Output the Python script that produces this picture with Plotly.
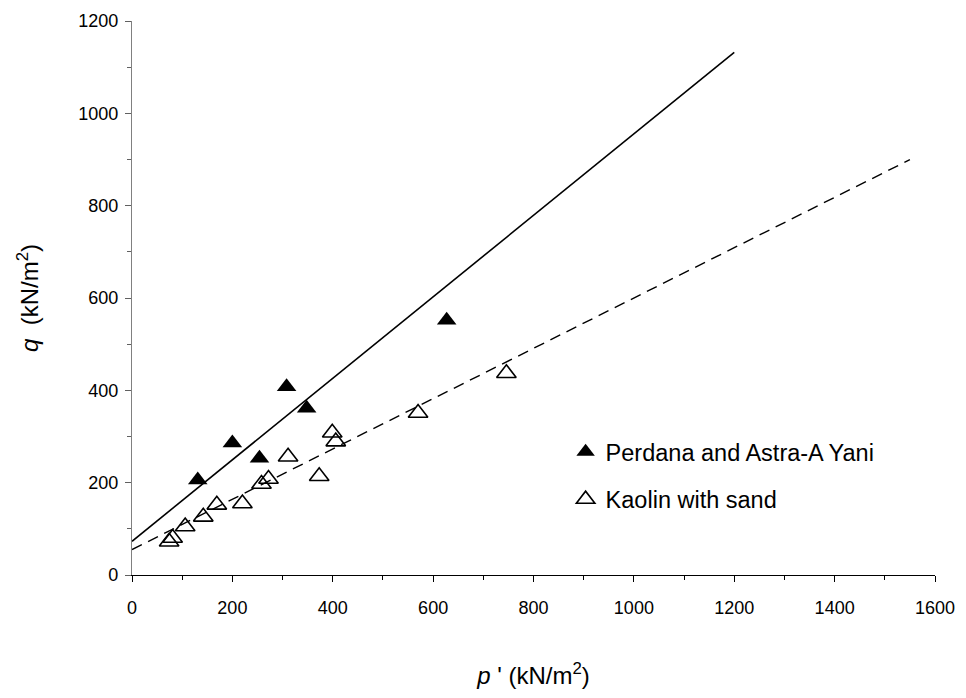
import numpy as np
import plotly.graph_objects as go

# Measured stress paths: mean effective stress p' and deviator stress q (kN/m²)
perdana_p = [131, 200, 254, 308, 348, 627]
perdana_q = [206, 286, 253, 408, 361, 552]

kaolin_p = [74, 81, 106, 142, 169, 220, 258, 272, 311, 373, 399, 406, 570, 746]
kaolin_q = [72, 80, 105, 126, 152, 155, 197, 208, 256, 214, 308, 289, 351, 437]

# Linear failure envelopes q = a + M p'
perdana_fit_a, perdana_fit_m, perdana_fit_pmax = 73.0, 0.8825, 1200.0
kaolin_fit_a, kaolin_fit_m, kaolin_fit_pmax = 55.0, 0.545, 1550.0

FONT = "Liberation Sans, Arial, sans-serif"

fig = go.Figure()

p_line1 = np.array([0.0, perdana_fit_pmax])
fig.add_trace(go.Scatter(
    x=p_line1, y=perdana_fit_a + perdana_fit_m * p_line1,
    mode="lines", line=dict(color="black", width=1.6),
    showlegend=False, hoverinfo="skip",
))

p_line2 = np.array([0.0, kaolin_fit_pmax])
fig.add_trace(go.Scatter(
    x=p_line2, y=kaolin_fit_a + kaolin_fit_m * p_line2,
    mode="lines", line=dict(color="black", width=1.4, dash="11px,7px"),
    showlegend=False, hoverinfo="skip",
))

fig.add_trace(go.Scatter(
    x=kaolin_p, y=kaolin_q, mode="markers", name="Kaolin with sand",
    legendgroup="b", legendrank=2,
    marker=dict(symbol="triangle-up-open", size=17, color="black",
                line=dict(color="black", width=1.6)),
))

fig.add_trace(go.Scatter(
    x=perdana_p, y=perdana_q, mode="markers", name="Perdana and Astra-A Yani",
    legendgroup="a", legendrank=1,
    marker=dict(symbol="triangle-up", size=17, color="black",
                line=dict(color="black", width=0)),
))

fig.update_layout(
    width=966, height=698,
    margin=dict(l=132, r=31, t=21, b=123),
    paper_bgcolor="white", plot_bgcolor="white",
    font=dict(family=FONT, size=18, color="black"),
    showlegend=True,
    legend=dict(
        x=0.54, y=0.262, xanchor="left", yanchor="top",
        font=dict(family=FONT, size=23.5, color="black"),
        traceorder="grouped", tracegroupgap=14,
        bgcolor="rgba(0,0,0,0)", itemwidth=30,
    ),
    xaxis=dict(
        range=[0, 1600], tickvals=list(range(0, 1601, 200)),
        showgrid=False, zeroline=False,
        showline=True, linecolor="black", linewidth=1.2,
        ticks="outside", ticklen=6, tickwidth=1.2, tickcolor="black",
        minor=dict(dtick=100, ticks="outside", ticklen=4, tickwidth=1, tickcolor="black"),
        tickfont=dict(size=18), ticklabelstandoff=10,
        title=dict(text="<i>p</i> ' (kN/m<sup>2</sup>)", font=dict(size=24), standoff=50),
    ),
    yaxis=dict(
        range=[0, 1200], tickvals=list(range(0, 1201, 200)),
        showgrid=False, zeroline=False,
        showline=True, linecolor="#808080", linewidth=1.2,
        ticks="outside", ticklen=6, tickwidth=1.2, tickcolor="#606060",
        minor=dict(dtick=100, ticks="outside", ticklen=4, tickwidth=1, tickcolor="#606060"),
        tickfont=dict(size=18), ticklabelstandoff=3,
        title=dict(text="<i>q</i>  (kN/m<sup>2</sup>)", font=dict(size=24), standoff=32),
    ),
)

fig.write_html("out.html")
